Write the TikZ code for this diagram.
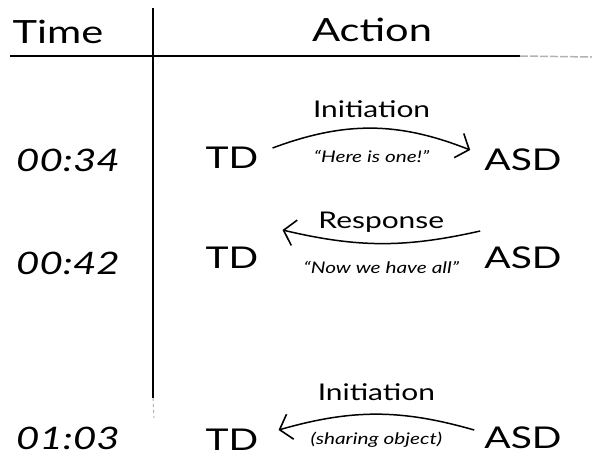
\documentclass[tikz,border=0pt]{standalone}
\usepackage{fontspec}
\setmainfont{Lato}
\newfontfamily\handfont[FakeStretch=1.3,Ligatures=TeX]{Lato}
\usetikzlibrary{arrows.meta,positioning}

\begin{document}
\begin{tikzpicture}[x=1pt,y=1pt,
  >={Straight Barb[length=11pt,width=26pt,line width=1.6pt]},
  head/.style={font=\handfont\fontsize{32}{34}\selectfont,inner sep=0pt},
  stamp/.style={font=\handfont\itshape\fontsize{31}{33}\selectfont,inner sep=0pt},
  party/.style={font=\handfont\fontsize{30}{32}\selectfont,inner sep=0pt},
  act/.style={font=\handfont\fontsize{23}{25}\selectfont},
  quote/.style={font=\handfont\itshape\fontsize{16}{18}\selectfont},
  msg/.style={->,line width=1.5pt}]
  \useasboundingbox (0,0) rectangle (595,-459);
  % table head
  \node[head] (time) at (58,-32) {Time};
  \node[head] (action) at (372,-30) {Action};
  \coordinate (hl) at (10,-56);
  \coordinate (hm) at (520,-56);
  \coordinate (hr) at (592,-57);
  \coordinate (vt) at (153,-8);
  \coordinate (vm) at (153,-398);
  \coordinate (vb) at (154,-418);
  \draw[line width=2.2pt] (hl)--(hm);
  \draw[line width=1.5pt,gray!60,dash pattern=on 8pt off 2pt] (hm)--(hr);
  \draw[line width=2.2pt] (vt)--(vm);
  \draw[line width=1pt,gray!60,dash pattern=on 3pt off 3pt] (vm)--(vb);
  % times
  \node[stamp] (t1) at (68,-160) {00:34};
  \node[stamp] (t2) at (68,-263) {00:42};
  \node[stamp] (t3) at (68,-438) {01:03};
  % parties
  \node[party] (td1) at (232,-158) {TD};
  \node[party] (asd1) at (523,-160) {ASD};
  \node[party] (td2) at (232,-258) {TD};
  \node[party] (asd2) at (523,-258) {ASD};
  \node[party] (td3) at (232,-440) {TD};
  \node[party] (asd3) at (523,-438) {ASD};
  % messages
  \draw[msg] ([shift={(14,10)}]td1.east) to[bend left=21]
    node[act,above=6pt] {Initiation}
    node[quote,below=18pt] {``Here is one!''}
    ([shift={(-14,10)}]asd1.west);
  \draw[msg] ([shift={(-4,27)}]asd2.west) to[bend left=13]
    node[act,above=7pt] {Response}
    node[quote,below=14pt] {``Now we have all''}
    ([shift={(24,28)}]td2.east);
  \draw[msg] ([shift={(-10,8)}]asd3.west) to[bend right=16]
    node[act,above=9pt] {Initiation}
    node[quote,below=14pt] {(sharing object)}
    ([shift={(20,10)}]td3.east);
\end{tikzpicture}
\end{document}
